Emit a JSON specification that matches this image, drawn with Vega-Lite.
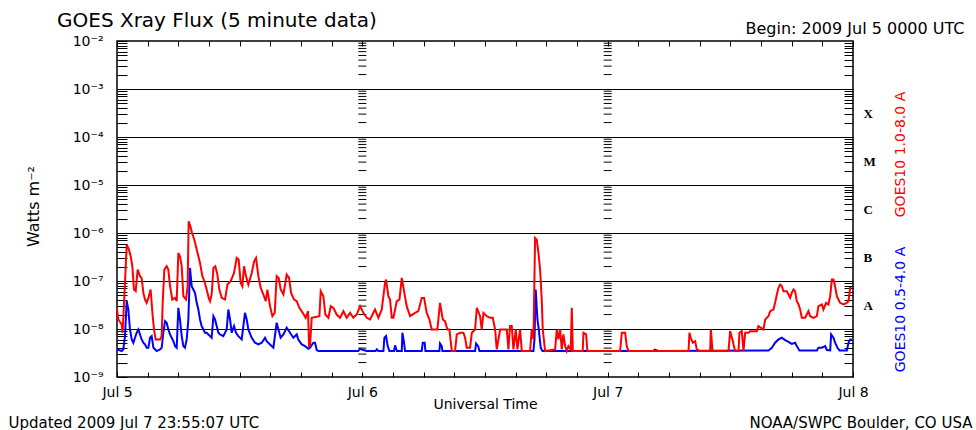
{
  "$schema": "https://vega.github.io/schema/vega-lite/v6.json",
  "width": 736,
  "height": 336,
  "autosize": {"type": "none"},
  "padding": {"left": 117, "top": 41, "right": 123, "bottom": 53},
  "background": "white",
  "title": {"text": "GOES Xray Flux (5 minute data)", "anchor": "start", "frame": "group", "dx": -60, "dy": 15, "font": "DejaVu Sans", "fontSize": 20, "fontWeight": "normal", "color": "black"},
  "config": {
    "font": "DejaVu Sans",
    "view": {"stroke": "black", "strokeWidth": 1.5},
    "axis": {"domain": false, "grid": false, "labelColor": "black", "titleColor": "black", "tickColor": "black", "titleFontWeight": "normal", "labelFont": "DejaVu Sans", "titleFont": "DejaVu Sans", "labelOverlap": false, "labelFlush": false}
  },
  "datasets": {
    "levels": [
      {"flux": 2e-9}, {"flux": 3e-9}, {"flux": 4e-9}, {"flux": 5e-9}, {"flux": 6e-9}, {"flux": 7e-9}, {"flux": 8e-9}, {"flux": 9e-9},
      {"flux": 2e-8}, {"flux": 3e-8}, {"flux": 4e-8}, {"flux": 5e-8}, {"flux": 6e-8}, {"flux": 7e-8}, {"flux": 8e-8}, {"flux": 9e-8},
      {"flux": 2e-7}, {"flux": 3e-7}, {"flux": 4e-7}, {"flux": 5e-7}, {"flux": 6e-7}, {"flux": 7e-7}, {"flux": 8e-7}, {"flux": 9e-7},
      {"flux": 2e-6}, {"flux": 3e-6}, {"flux": 4e-6}, {"flux": 5e-6}, {"flux": 6e-6}, {"flux": 7e-6}, {"flux": 8e-6}, {"flux": 9e-6},
      {"flux": 2e-5}, {"flux": 3e-5}, {"flux": 4e-5}, {"flux": 5e-5}, {"flux": 6e-5}, {"flux": 7e-5}, {"flux": 8e-5}, {"flux": 9e-5},
      {"flux": 2e-4}, {"flux": 3e-4}, {"flux": 4e-4}, {"flux": 5e-4}, {"flux": 6e-4}, {"flux": 7e-4}, {"flux": 8e-4}, {"flux": 9e-4},
      {"flux": 2e-3}, {"flux": 3e-3}, {"flux": 4e-3}, {"flux": 5e-3}, {"flux": 6e-3}, {"flux": 7e-3}, {"flux": 8e-3}, {"flux": 9e-3}
    ],
    "short": [
      {"hour": 0, "flux": 3.76e-9}, {"hour": 0.46, "flux": 3.47e-9}, {"hour": 0.62, "flux": 3.76e-9}, {"hour": 0.78, "flux": 7.11e-9}, {"hour": 0.95, "flux": 3.8e-8}, {"hour": 1.11, "flux": 2.55e-8}, {"hour": 1.27, "flux": 9.78e-9}, {"hour": 1.44, "flux": 6.06e-9}, {"hour": 1.6, "flux": 5.17e-9}, {"hour": 1.76, "flux": 6.57e-9}, {"hour": 1.92, "flux": 8.34e-9}, {"hour": 2.09, "flux": 9.78e-9}, {"hour": 2.25, "flux": 7.7e-9}, {"hour": 2.41, "flux": 6.06e-9}, {"hour": 2.58, "flux": 5.17e-9}, {"hour": 2.74, "flux": 4.77e-9}, {"hour": 2.9, "flux": 4.07e-9}, {"hour": 3.07, "flux": 4.07e-9}, {"hour": 3.23, "flux": 6.57e-9}, {"hour": 3.39, "flux": 7.11e-9}, {"hour": 3.56, "flux": 4.07e-9}, {"hour": 3.88, "flux": 3.47e-9}, {"hour": 4.21, "flux": 3.76e-9}, {"hour": 4.37, "flux": 4.07e-9}, {"hour": 4.53, "flux": 8.34e-9}, {"hour": 4.7, "flux": 1.46e-8}, {"hour": 4.86, "flux": 1.35e-8}, {"hour": 5.02, "flux": 9.78e-9}, {"hour": 5.19, "flux": 7.7e-9}, {"hour": 5.35, "flux": 6.57e-9}, {"hour": 5.51, "flux": 5.6e-9}, {"hour": 5.68, "flux": 4.4e-9}, {"hour": 5.84, "flux": 4.07e-9}, {"hour": 6.0, "flux": 2.76e-8}, {"hour": 6.16, "flux": 1.58e-8}, {"hour": 6.33, "flux": 7.11e-9}, {"hour": 6.49, "flux": 4.4e-9}, {"hour": 6.65, "flux": 4.07e-9}, {"hour": 6.82, "flux": 6.06e-9}, {"hour": 6.98, "flux": 1.58e-8}, {"hour": 7.14, "flux": 1.87e-7}, {"hour": 7.31, "flux": 7.78e-8}, {"hour": 7.47, "flux": 6.64e-8}, {"hour": 7.63, "flux": 5.66e-8}, {"hour": 7.8, "flux": 3.51e-8}, {"hour": 7.96, "flux": 2.55e-8}, {"hour": 8.12, "flux": 1.58e-8}, {"hour": 8.28, "flux": 1.15e-8}, {"hour": 8.45, "flux": 9.78e-9}, {"hour": 8.61, "flux": 8.34e-9}, {"hour": 8.77, "flux": 8.34e-9}, {"hour": 8.94, "flux": 7.7e-9}, {"hour": 9.1, "flux": 7.11e-9}, {"hour": 9.26, "flux": 6.57e-9}, {"hour": 9.43, "flux": 1.85e-8}, {"hour": 9.59, "flux": 1.58e-8}, {"hour": 9.75, "flux": 1.15e-8}, {"hour": 9.92, "flux": 8.34e-9}, {"hour": 10.08, "flux": 7.7e-9}, {"hour": 10.4, "flux": 7.11e-9}, {"hour": 10.73, "flux": 9.78e-9}, {"hour": 10.89, "flux": 2.55e-8}, {"hour": 11.06, "flux": 1.58e-8}, {"hour": 11.22, "flux": 8.34e-9}, {"hour": 11.45, "flux": 1.15e-8}, {"hour": 11.64, "flux": 8.34e-9}, {"hour": 11.87, "flux": 7.11e-9}, {"hour": 12.2, "flux": 6.06e-9}, {"hour": 12.52, "flux": 2.17e-8}, {"hour": 12.69, "flux": 1.58e-8}, {"hour": 12.85, "flux": 9.78e-9}, {"hour": 13.18, "flux": 6.57e-9}, {"hour": 13.5, "flux": 5.17e-9}, {"hour": 13.83, "flux": 4.77e-9}, {"hour": 14.16, "flux": 5.17e-9}, {"hour": 14.48, "flux": 6.57e-9}, {"hour": 14.64, "flux": 5.6e-9}, {"hour": 14.97, "flux": 4.77e-9}, {"hour": 15.3, "flux": 4.07e-9}, {"hour": 15.62, "flux": 1.35e-8}, {"hour": 15.79, "flux": 9.78e-9}, {"hour": 16.01, "flux": 6.57e-9}, {"hour": 16.28, "flux": 7.7e-9}, {"hour": 16.6, "flux": 1.06e-8}, {"hour": 16.93, "flux": 8.34e-9}, {"hour": 17.25, "flux": 6.57e-9}, {"hour": 17.58, "flux": 7.7e-9}, {"hour": 17.74, "flux": 6.06e-9}, {"hour": 18.07, "flux": 4.77e-9}, {"hour": 18.4, "flux": 4.4e-9}, {"hour": 18.72, "flux": 3.88e-9}, {"hour": 18.88, "flux": 4.07e-9}, {"hour": 19.21, "flux": 5.17e-9}, {"hour": 19.37, "flux": 5.17e-9}, {"hour": 19.54, "flux": 3.64e-9}, {"hour": 19.7, "flux": 3.47e-9}, {"hour": 23.6, "flux": 3.47e-9}, {"hour": 23.78, "flux": 3.88e-9}, {"hour": 24.1, "flux": 3.64e-9}, {"hour": 24.43, "flux": 3.47e-9}, {"hour": 25.3, "flux": 3.47e-9}, {"hour": 25.41, "flux": 3.76e-9}, {"hour": 25.57, "flux": 3.47e-9}, {"hour": 26.06, "flux": 3.47e-9}, {"hour": 26.16, "flux": 6.57e-9}, {"hour": 26.32, "flux": 7.11e-9}, {"hour": 26.48, "flux": 4.4e-9}, {"hour": 26.65, "flux": 3.47e-9}, {"hour": 27.1, "flux": 3.47e-9}, {"hour": 27.2, "flux": 4.55e-9}, {"hour": 27.37, "flux": 3.47e-9}, {"hour": 27.86, "flux": 3.47e-9}, {"hour": 27.92, "flux": 8.34e-9}, {"hour": 28.08, "flux": 5.17e-9}, {"hour": 28.18, "flux": 3.47e-9}, {"hour": 29.81, "flux": 3.47e-9}, {"hour": 29.91, "flux": 5.17e-9}, {"hour": 30.1, "flux": 5.17e-9}, {"hour": 30.17, "flux": 3.47e-9}, {"hour": 31.54, "flux": 3.47e-9}, {"hour": 31.6, "flux": 5.0e-9}, {"hour": 31.77, "flux": 4.4e-9}, {"hour": 31.83, "flux": 3.47e-9}, {"hour": 35.03, "flux": 3.47e-9}, {"hour": 35.13, "flux": 5.0e-9}, {"hour": 35.33, "flux": 4.4e-9}, {"hour": 35.46, "flux": 3.47e-9}, {"hour": 40.74, "flux": 3.47e-9}, {"hour": 40.84, "flux": 6.06e-9}, {"hour": 40.96, "flux": 6.64e-8}, {"hour": 41.13, "flux": 1.58e-8}, {"hour": 41.26, "flux": 9.78e-9}, {"hour": 41.45, "flux": 4.07e-9}, {"hour": 41.62, "flux": 3.47e-9}, {"hour": 52.48, "flux": 3.47e-9}, {"hour": 52.6, "flux": 3.7e-9}, {"hour": 52.97, "flux": 3.47e-9}, {"hour": 63.73, "flux": 3.58e-9}, {"hour": 64.06, "flux": 4.07e-9}, {"hour": 64.38, "flux": 5.17e-9}, {"hour": 64.71, "flux": 6.06e-9}, {"hour": 65.04, "flux": 6.57e-9}, {"hour": 65.36, "flux": 5.88e-9}, {"hour": 65.69, "flux": 5.38e-9}, {"hour": 66.01, "flux": 4.88e-9}, {"hour": 66.34, "flux": 5.17e-9}, {"hour": 66.5, "flux": 4.4e-9}, {"hour": 66.76, "flux": 3.58e-9}, {"hour": 68.46, "flux": 3.58e-9}, {"hour": 68.62, "flux": 4.07e-9}, {"hour": 68.95, "flux": 4.07e-9}, {"hour": 69.28, "flux": 4.4e-9}, {"hour": 69.44, "flux": 3.64e-9}, {"hour": 69.77, "flux": 3.58e-9}, {"hour": 69.86, "flux": 7.7e-9}, {"hour": 70.09, "flux": 6.57e-9}, {"hour": 70.25, "flux": 5.17e-9}, {"hour": 70.48, "flux": 4.07e-9}, {"hour": 70.68, "flux": 3.58e-9}, {"hour": 71.4, "flux": 3.58e-9}, {"hour": 71.56, "flux": 5.17e-9}, {"hour": 71.72, "flux": 6.06e-9}, {"hour": 71.89, "flux": 6.06e-9}
    ],
    "long": [
      {"hour": 0, "flux": 2.55e-8}, {"hour": 0.13, "flux": 1.58e-8}, {"hour": 0.46, "flux": 1.24e-8}, {"hour": 0.55, "flux": 8.34e-9}, {"hour": 0.78, "flux": 9.12e-8}, {"hour": 0.95, "flux": 5.71e-7}, {"hour": 1.17, "flux": 4.5e-7}, {"hour": 1.34, "flux": 3.27e-7}, {"hour": 1.5, "flux": 2.03e-7}, {"hour": 1.66, "flux": 6.64e-8}, {"hour": 1.83, "flux": 6.13e-8}, {"hour": 2.02, "flux": 1.73e-7}, {"hour": 2.25, "flux": 1.26e-7}, {"hour": 2.41, "flux": 1.16e-7}, {"hour": 2.58, "flux": 5.66e-8}, {"hour": 2.74, "flux": 4.11e-8}, {"hour": 2.9, "flux": 3.51e-8}, {"hour": 3.07, "flux": 4.45e-8}, {"hour": 3.29, "flux": 6.64e-8}, {"hour": 3.49, "flux": 1.85e-8}, {"hour": 3.62, "flux": 9.78e-9}, {"hour": 3.78, "flux": 6.06e-9}, {"hour": 4.21, "flux": 6.06e-9}, {"hour": 4.37, "flux": 7.11e-9}, {"hour": 4.47, "flux": 3.51e-8}, {"hour": 4.63, "flux": 1.73e-7}, {"hour": 4.86, "flux": 2.03e-7}, {"hour": 5.02, "flux": 1.73e-7}, {"hour": 5.19, "flux": 7.78e-8}, {"hour": 5.41, "flux": 4.11e-8}, {"hour": 5.68, "flux": 4.45e-8}, {"hour": 5.84, "flux": 3.8e-8}, {"hour": 6.0, "flux": 3.84e-7}, {"hour": 6.16, "flux": 3.27e-7}, {"hour": 6.33, "flux": 2.03e-7}, {"hour": 6.49, "flux": 4.82e-8}, {"hour": 6.75, "flux": 4.11e-8}, {"hour": 6.91, "flux": 7.78e-8}, {"hour": 7.01, "flux": 1.75e-6}, {"hour": 7.18, "flux": 1.38e-6}, {"hour": 7.34, "flux": 1.0e-6}, {"hour": 7.57, "flux": 7.26e-7}, {"hour": 7.8, "flux": 4.5e-7}, {"hour": 7.96, "flux": 3.27e-7}, {"hour": 8.12, "flux": 2.38e-7}, {"hour": 8.35, "flux": 1.26e-7}, {"hour": 8.55, "flux": 9.89e-8}, {"hour": 8.77, "flux": 6.64e-8}, {"hour": 8.97, "flux": 4.45e-8}, {"hour": 9.1, "flux": 3.8e-8}, {"hour": 9.26, "flux": 5.23e-8}, {"hour": 9.43, "flux": 1.87e-7}, {"hour": 9.62, "flux": 2.03e-7}, {"hour": 9.82, "flux": 1.36e-7}, {"hour": 10.01, "flux": 6.64e-8}, {"hour": 10.24, "flux": 4.45e-8}, {"hour": 10.57, "flux": 4.11e-8}, {"hour": 10.8, "flux": 8.43e-8}, {"hour": 11.12, "flux": 9.89e-8}, {"hour": 11.45, "flux": 1.47e-7}, {"hour": 11.71, "flux": 3.02e-7}, {"hour": 11.9, "flux": 2.79e-7}, {"hour": 12.1, "flux": 9.12e-8}, {"hour": 12.26, "flux": 7.78e-8}, {"hour": 12.43, "flux": 2.03e-7}, {"hour": 12.62, "flux": 1.26e-7}, {"hour": 12.85, "flux": 8.43e-8}, {"hour": 13.18, "flux": 1.47e-7}, {"hour": 13.41, "flux": 2.58e-7}, {"hour": 13.6, "flux": 3.02e-7}, {"hour": 13.83, "flux": 1.26e-7}, {"hour": 14.06, "flux": 7.19e-8}, {"hour": 14.32, "flux": 5.23e-8}, {"hour": 14.55, "flux": 3.8e-8}, {"hour": 14.71, "flux": 6.64e-8}, {"hour": 14.97, "flux": 2.99e-8}, {"hour": 15.2, "flux": 1.85e-8}, {"hour": 15.43, "flux": 2.17e-8}, {"hour": 15.62, "flux": 1.26e-7}, {"hour": 15.82, "flux": 1.16e-7}, {"hour": 16.01, "flux": 6.64e-8}, {"hour": 16.28, "flux": 5.23e-8}, {"hour": 16.6, "flux": 1.36e-7}, {"hour": 16.83, "flux": 1.16e-7}, {"hour": 17.03, "flux": 5.66e-8}, {"hour": 17.32, "flux": 4.11e-8}, {"hour": 17.58, "flux": 3.8e-8}, {"hour": 17.84, "flux": 2.76e-8}, {"hour": 18.17, "flux": 2.17e-8}, {"hour": 18.46, "flux": 1.71e-8}, {"hour": 18.69, "flux": 2.35e-8}, {"hour": 18.79, "flux": 4.4e-9}, {"hour": 18.88, "flux": 4.4e-9}, {"hour": 19.05, "flux": 1.71e-8}, {"hour": 19.8, "flux": 1.85e-8}, {"hour": 19.93, "flux": 6.13e-8}, {"hour": 20.19, "flux": 4.82e-8}, {"hour": 20.38, "flux": 2.0e-8}, {"hour": 20.68, "flux": 1.71e-8}, {"hour": 20.91, "flux": 2.99e-8}, {"hour": 21.17, "flux": 2.76e-8}, {"hour": 21.49, "flux": 2.0e-8}, {"hour": 21.82, "flux": 1.71e-8}, {"hour": 22.15, "flux": 2.35e-8}, {"hour": 22.47, "flux": 1.71e-8}, {"hour": 22.8, "flux": 2.17e-8}, {"hour": 23.12, "flux": 1.71e-8}, {"hour": 23.45, "flux": 2.0e-8}, {"hour": 23.78, "flux": 2.99e-8}, {"hour": 24.1, "flux": 2.17e-8}, {"hour": 24.43, "flux": 1.71e-8}, {"hour": 24.76, "flux": 1.58e-8}, {"hour": 25.24, "flux": 2.55e-8}, {"hour": 25.57, "flux": 1.71e-8}, {"hour": 25.9, "flux": 2.55e-8}, {"hour": 26.22, "flux": 9.12e-8}, {"hour": 26.32, "flux": 1.07e-7}, {"hour": 26.55, "flux": 4.82e-8}, {"hour": 26.71, "flux": 4.11e-8}, {"hour": 26.88, "flux": 1.71e-8}, {"hour": 27.04, "flux": 1.71e-8}, {"hour": 27.37, "flux": 3.8e-8}, {"hour": 27.63, "flux": 4.11e-8}, {"hour": 27.86, "flux": 1.16e-7}, {"hour": 28.08, "flux": 6.13e-8}, {"hour": 28.34, "flux": 2.99e-8}, {"hour": 28.67, "flux": 1.85e-8}, {"hour": 29.16, "flux": 2.17e-8}, {"hour": 29.48, "flux": 2.35e-8}, {"hour": 29.81, "flux": 4.45e-8}, {"hour": 30.04, "flux": 4.45e-8}, {"hour": 30.3, "flux": 2.17e-8}, {"hour": 30.56, "flux": 1.58e-8}, {"hour": 30.79, "flux": 9.78e-9}, {"hour": 31.34, "flux": 9.78e-9}, {"hour": 31.6, "flux": 3.51e-8}, {"hour": 31.87, "flux": 1.58e-8}, {"hour": 32.09, "flux": 1.46e-8}, {"hour": 32.32, "flux": 9.78e-9}, {"hour": 32.52, "flux": 9.78e-9}, {"hour": 32.75, "flux": 3.47e-9}, {"hour": 33.07, "flux": 3.47e-9}, {"hour": 33.24, "flux": 7.7e-9}, {"hour": 33.57, "flux": 8.34e-9}, {"hour": 33.89, "flux": 8.34e-9}, {"hour": 34.05, "flux": 6.57e-9}, {"hour": 34.21, "flux": 4.07e-9}, {"hour": 34.54, "flux": 4.07e-9}, {"hour": 34.71, "flux": 8.34e-9}, {"hour": 35.03, "flux": 9.78e-9}, {"hour": 35.2, "flux": 2.76e-8}, {"hour": 35.52, "flux": 1.85e-8}, {"hour": 35.68, "flux": 9.78e-9}, {"hour": 35.85, "flux": 2.17e-8}, {"hour": 36.17, "flux": 1.85e-8}, {"hour": 36.5, "flux": 1.71e-8}, {"hour": 36.76, "flux": 1.71e-8}, {"hour": 36.99, "flux": 9.78e-9}, {"hour": 37.15, "flux": 3.76e-9}, {"hour": 37.48, "flux": 9.78e-9}, {"hour": 38.13, "flux": 9.78e-9}, {"hour": 38.29, "flux": 3.76e-9}, {"hour": 38.45, "flux": 1.15e-8}, {"hour": 38.62, "flux": 1.15e-8}, {"hour": 38.78, "flux": 3.76e-9}, {"hour": 39.01, "flux": 9.78e-9}, {"hour": 39.17, "flux": 3.76e-9}, {"hour": 39.43, "flux": 9.78e-9}, {"hour": 39.6, "flux": 3.47e-9}, {"hour": 40.41, "flux": 3.47e-9}, {"hour": 40.57, "flux": 9.78e-9}, {"hour": 40.74, "flux": 6.06e-9}, {"hour": 40.9, "flux": 7.87e-7}, {"hour": 41.06, "flux": 7.26e-7}, {"hour": 41.23, "flux": 3.84e-7}, {"hour": 41.39, "flux": 1.73e-7}, {"hour": 41.55, "flux": 4.11e-8}, {"hour": 41.65, "flux": 9.78e-9}, {"hour": 41.88, "flux": 3.47e-9}, {"hour": 42.86, "flux": 3.76e-9}, {"hour": 43.02, "flux": 9.78e-9}, {"hour": 43.18, "flux": 6.06e-9}, {"hour": 43.35, "flux": 9.78e-9}, {"hour": 43.51, "flux": 3.76e-9}, {"hour": 43.67, "flux": 7.7e-9}, {"hour": 43.84, "flux": 4.4e-9}, {"hour": 44.0, "flux": 3.47e-9}, {"hour": 44.16, "flux": 4.4e-9}, {"hour": 44.39, "flux": 3.76e-9}, {"hour": 44.49, "flux": 2.76e-8}, {"hour": 44.59, "flux": 3.47e-9}, {"hour": 45.56, "flux": 3.47e-9}, {"hour": 45.63, "flux": 8.34e-9}, {"hour": 45.89, "flux": 7.7e-9}, {"hour": 46.02, "flux": 3.47e-9}, {"hour": 49.22, "flux": 3.47e-9}, {"hour": 49.38, "flux": 8.34e-9}, {"hour": 49.71, "flux": 8.34e-9}, {"hour": 49.87, "flux": 4.4e-9}, {"hour": 50.03, "flux": 3.47e-9}, {"hour": 55.91, "flux": 3.47e-9}, {"hour": 56.0, "flux": 8.34e-9}, {"hour": 56.13, "flux": 6.57e-9}, {"hour": 56.33, "flux": 5.17e-9}, {"hour": 56.56, "flux": 5.6e-9}, {"hour": 56.72, "flux": 3.76e-9}, {"hour": 57.05, "flux": 3.47e-9}, {"hour": 58.03, "flux": 3.47e-9}, {"hour": 58.09, "flux": 9.78e-9}, {"hour": 58.26, "flux": 3.47e-9}, {"hour": 59.82, "flux": 3.47e-9}, {"hour": 59.98, "flux": 9.03e-9}, {"hour": 60.24, "flux": 5.6e-9}, {"hour": 60.31, "flux": 4.77e-9}, {"hour": 60.47, "flux": 3.47e-9}, {"hour": 60.8, "flux": 3.47e-9}, {"hour": 60.89, "flux": 8.34e-9}, {"hour": 61.12, "flux": 9.03e-9}, {"hour": 61.29, "flux": 3.47e-9}, {"hour": 61.45, "flux": 8.34e-9}, {"hour": 61.78, "flux": 8.34e-9}, {"hour": 61.94, "flux": 9.03e-9}, {"hour": 62.59, "flux": 9.03e-9}, {"hour": 62.75, "flux": 1.15e-8}, {"hour": 63.24, "flux": 9.78e-9}, {"hour": 63.41, "flux": 1.58e-8}, {"hour": 63.73, "flux": 1.85e-8}, {"hour": 63.9, "flux": 2.35e-8}, {"hour": 64.22, "flux": 2.55e-8}, {"hour": 64.38, "flux": 3.51e-8}, {"hour": 64.55, "flux": 5.23e-8}, {"hour": 64.71, "flux": 7.19e-8}, {"hour": 64.87, "flux": 8.43e-8}, {"hour": 65.04, "flux": 7.78e-8}, {"hour": 65.2, "flux": 6.13e-8}, {"hour": 65.52, "flux": 6.13e-8}, {"hour": 65.69, "flux": 5.23e-8}, {"hour": 65.85, "flux": 4.45e-8}, {"hour": 66.01, "flux": 5.66e-8}, {"hour": 66.18, "flux": 6.64e-8}, {"hour": 66.34, "flux": 6.13e-8}, {"hour": 66.5, "flux": 3.8e-8}, {"hour": 66.67, "flux": 3.24e-8}, {"hour": 66.83, "flux": 2.55e-8}, {"hour": 66.99, "flux": 1.71e-8}, {"hour": 67.32, "flux": 1.71e-8}, {"hour": 67.64, "flux": 2.35e-8}, {"hour": 67.81, "flux": 1.85e-8}, {"hour": 68.13, "flux": 1.71e-8}, {"hour": 68.46, "flux": 1.85e-8}, {"hour": 68.62, "flux": 2.99e-8}, {"hour": 68.95, "flux": 3.24e-8}, {"hour": 69.11, "flux": 2.55e-8}, {"hour": 69.37, "flux": 3.51e-8}, {"hour": 69.6, "flux": 3.24e-8}, {"hour": 69.77, "flux": 4.82e-8}, {"hour": 69.93, "flux": 1.07e-7}, {"hour": 70.09, "flux": 1.07e-7}, {"hour": 70.25, "flux": 7.78e-8}, {"hour": 70.42, "flux": 4.82e-8}, {"hour": 70.58, "flux": 4.11e-8}, {"hour": 70.74, "flux": 3.51e-8}, {"hour": 71.07, "flux": 3.24e-8}, {"hour": 71.4, "flux": 3.51e-8}, {"hour": 71.56, "flux": 3.8e-8}, {"hour": 71.72, "flux": 7.19e-8}, {"hour": 71.85, "flux": 7.19e-8}
    ]
  },
  "resolve": {"axis": {"x": "independent", "y": "independent"}},
  "layer": [
    {
      "data": {"name": "levels"},
      "mark": {"type": "tick", "orient": "horizontal", "size": 8, "thickness": 1, "color": "black", "opacity": 1},
      "encoding": {
        "x": {"datum": 24, "type": "quantitative", "scale": {"domain": [0, 72], "nice": false, "zero": false},
          "axis": {"orient": "bottom", "labels": false, "ticks": false, "domain": false, "grid": false, "title": "Updated 2009 Jul  7 23:55:07 UTC", "titleX": -109, "titleY": 50, "titleAlign": "left", "titleAnchor": "start", "titleBaseline": "alphabetic", "titleFontSize": 15}},
        "y": {"field": "flux", "type": "quantitative", "scale": {"type": "log", "domain": [1e-9, 1e-2], "nice": false},
          "axis": {"orient": "right", "labels": false, "ticks": false, "domain": false, "grid": false, "title": "GOES10 0.5-4.0 A", "titleColor": "#0000ff", "titleAngle": 270, "titleX": 47, "titleY": 268, "titleAlign": "center", "titleBaseline": "middle", "titleFontSize": 14}}
      }
    },
    {
      "data": {"name": "levels"},
      "mark": {"type": "tick", "orient": "horizontal", "size": 8, "thickness": 1, "color": "black", "opacity": 1},
      "encoding": {
        "x": {"datum": 48, "type": "quantitative", "scale": {"domain": [0, 72], "nice": false, "zero": false},
          "axis": {"orient": "bottom", "labels": false, "ticks": false, "domain": false, "grid": false, "title": "NOAA/SWPC Boulder, CO USA", "titleX": 855, "titleY": 50, "titleAlign": "right", "titleAnchor": "end", "titleBaseline": "alphabetic", "titleFontSize": 15}},
        "y": {"field": "flux", "type": "quantitative", "scale": {"type": "log", "domain": [1e-9, 1e-2], "nice": false}, "axis": null}
      }
    },
    {
      "data": {"name": "short"},
      "mark": {"type": "line", "color": "#0000ff", "strokeWidth": 2},
      "encoding": {
        "x": {"field": "hour", "type": "quantitative", "scale": {"domain": [0, 72], "nice": false, "zero": false},
          "axis": {"orient": "bottom", "values": [0, 3, 6, 9, 12, 15, 18, 21, 24, 27, 30, 33, 36, 39, 42, 45, 48, 51, 54, 57, 60, 63, 66, 69, 72],
            "labelExpr": "datum.value == 0 ? 'Jul 5' : datum.value == 24 ? 'Jul 6' : datum.value == 48 ? 'Jul 7' : datum.value == 72 ? 'Jul 8' : ''",
            "tickSize": -5, "labelPadding": 13, "labelFontSize": 14, "labelAlign": "center",
            "title": "Universal Time", "titleX": 368, "titleY": 31, "titleAlign": "center", "titleBaseline": "alphabetic", "titleFontSize": 14}},
        "y": {"field": "flux", "type": "quantitative", "scale": {"type": "log", "domain": [1e-9, 1e-2], "nice": false},
          "axis": {"orient": "left",
            "values": [1e-9, 1e-8, 1e-7, 1e-6, 1e-5, 1e-4, 1e-3, 1e-2, 2e-9, 3e-9, 4e-9, 5e-9, 6e-9, 7e-9, 8e-9, 9e-9, 2e-8, 3e-8, 4e-8, 5e-8, 6e-8, 7e-8, 8e-8, 9e-8, 2e-7, 3e-7, 4e-7, 5e-7, 6e-7, 7e-7, 8e-7, 9e-7, 2e-6, 3e-6, 4e-6, 5e-6, 6e-6, 7e-6, 8e-6, 9e-6, 2e-5, 3e-5, 4e-5, 5e-5, 6e-5, 7e-5, 8e-5, 9e-5, 2e-4, 3e-4, 4e-4, 5e-4, 6e-4, 7e-4, 8e-4, 9e-4, 2e-3, 3e-3, 4e-3, 5e-3, 6e-3, 7e-3, 8e-3, 9e-3],
            "labelExpr": "datum.value == 0.01 ? '10⁻²' : datum.value == 0.001 ? '10⁻³' : datum.value == 0.0001 ? '10⁻⁴' : datum.value == 0.00001 ? '10⁻⁵' : datum.value == 0.000001 ? '10⁻⁶' : datum.value == 0.0000001 ? '10⁻⁷' : datum.value == 0.00000001 ? '10⁻⁸' : datum.value == 0.000000001 ? '10⁻⁹' : ''",
            "labelFontSize": 14, "labelBaseline": "middle", "tickSize": -10, "labelPadding": 24,
            "grid": true, "gridColor": "black", "gridWidth": 1,
            "gridOpacity": {"condition": {"test": "datum.value == 0.001 || datum.value == 0.0001 || datum.value == 0.00001 || datum.value == 0.000001 || datum.value == 0.0000001 || datum.value == 0.00000001", "value": 1}, "value": 0},
            "title": "Watts m⁻²", "titleAngle": 270, "titleX": -84, "titleY": 165, "titleAlign": "center", "titleBaseline": "middle", "titleFontSize": 16}}
      }
    },
    {
      "data": {"name": "long"},
      "mark": {"type": "line", "color": "#ff0000", "strokeWidth": 2},
      "encoding": {
        "x": {"field": "hour", "type": "quantitative", "scale": {"domain": [0, 72], "nice": false, "zero": false},
          "axis": {"orient": "top", "values": [0, 3, 6, 9, 12, 15, 18, 21, 24, 27, 30, 33, 36, 39, 42, 45, 48, 51, 54, 57, 60, 63, 66, 69, 72],
            "labels": false, "tickSize": -5,
            "title": "Begin:  2009 Jul 5 0000 UTC", "titleX": 847, "titleY": -8, "titleAlign": "right", "titleAnchor": "end", "titleBaseline": "alphabetic", "titleFontSize": 16}},
        "y": {"field": "flux", "type": "quantitative", "scale": {"type": "log", "domain": [1e-9, 1e-2], "nice": false},
          "axis": {"orient": "right",
            "values": [3.162e-4, 3.162e-5, 3.162e-6, 3.162e-7, 3.162e-8, 2e-9, 3e-9, 4e-9, 5e-9, 6e-9, 7e-9, 8e-9, 9e-9, 2e-8, 3e-8, 4e-8, 5e-8, 6e-8, 7e-8, 8e-8, 9e-8, 2e-7, 3e-7, 4e-7, 5e-7, 6e-7, 7e-7, 8e-7, 9e-7, 2e-6, 3e-6, 4e-6, 5e-6, 6e-6, 7e-6, 8e-6, 9e-6, 2e-5, 3e-5, 4e-5, 5e-5, 6e-5, 7e-5, 8e-5, 9e-5, 2e-4, 3e-4, 4e-4, 5e-4, 6e-4, 7e-4, 8e-4, 9e-4, 2e-3, 3e-3, 4e-3, 5e-3, 6e-3, 7e-3, 8e-3, 9e-3],
            "labelExpr": "datum.value == 0.0003162 ? 'X' : datum.value == 0.00003162 ? 'M' : datum.value == 0.000003162 ? 'C' : datum.value == 0.0000003162 ? 'B' : datum.value == 0.00000003162 ? 'A' : ''",
            "labelFont": "Liberation Serif", "labelFontWeight": "bold", "labelFontSize": 13, "labelBaseline": "middle",
            "tickSize": -9, "labelPadding": 19,
            "tickOpacity": {"condition": {"test": "datum.value == 0.0003162 || datum.value == 0.00003162 || datum.value == 0.000003162 || datum.value == 0.0000003162 || datum.value == 0.00000003162", "value": 0}, "value": 1},
            "title": "GOES10 1.0-8.0 A", "titleColor": "#ff0000", "titleAngle": 270, "titleX": 47, "titleY": 113, "titleAlign": "center", "titleBaseline": "middle", "titleFontSize": 14}}
      }
    }
  ]
}
